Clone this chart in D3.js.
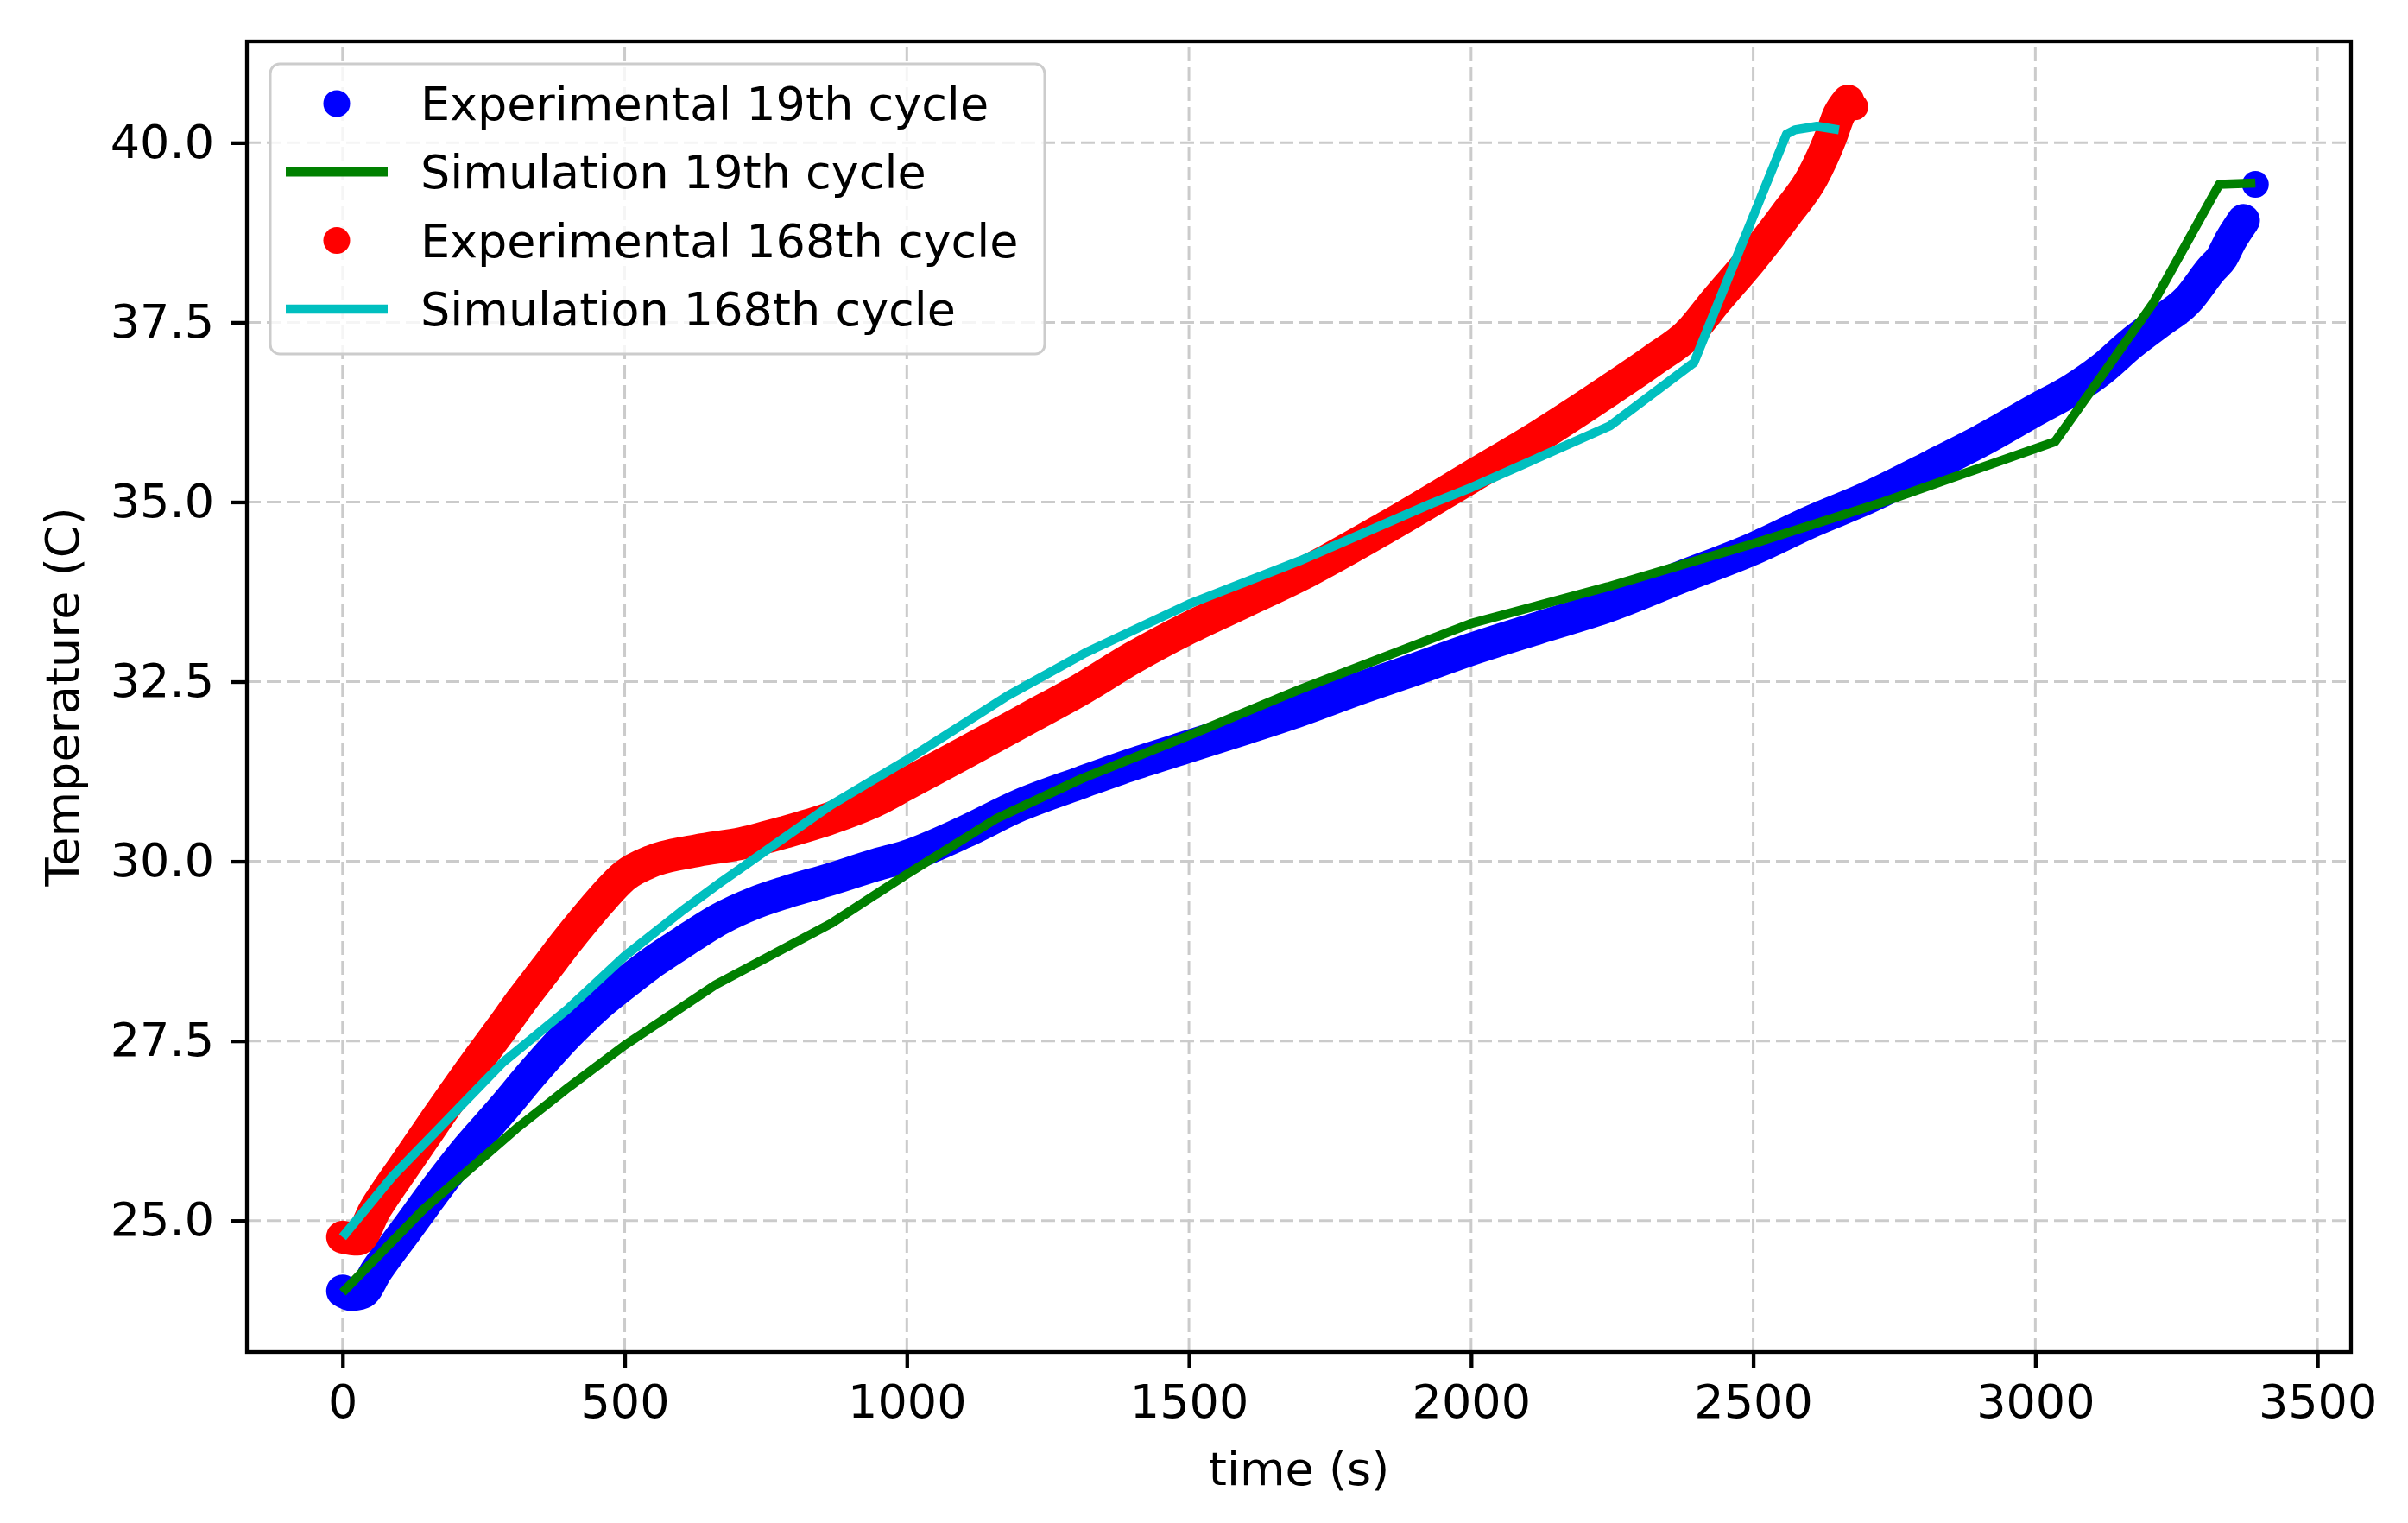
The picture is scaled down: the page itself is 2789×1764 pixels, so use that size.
<!DOCTYPE html>
<html>
<head>
<meta charset="utf-8">
<script src="https://cdn.jsdelivr.net/npm/d3@7"></script>
<style>
    body { margin: 0; background: #fff; }
    text { font-family: "DejaVu Sans", sans-serif; fill: #000; }
</style>
</head>
<body>
<script>
// ---- data: [time (s), temperature (C)] ----
var exp19 = [[0, 24.02], [15, 23.97], [35, 24.0], [60, 24.3], [113, 24.87], [167, 25.45], [222, 26.0],
    [280, 26.52], [340, 27.08], [400, 27.6], [450, 27.98], [500, 28.3], [550, 28.6], [600, 28.86],
    [669, 29.2], [730, 29.42], [786, 29.57], [865, 29.75], [945, 29.95], [1000, 30.07], [1100, 30.4],
    [1200, 30.78], [1310, 31.1], [1400, 31.35], [1500, 31.6], [1600, 31.85], [1696, 32.1], [1800, 32.4],
    [1900, 32.67], [2000, 32.95], [2120, 33.25], [2242, 33.55], [2370, 33.95], [2500, 34.35], [2606, 34.74],
    [2700, 35.05], [2816, 35.5], [2915, 35.9], [3000, 36.28], [3067, 36.57], [3118, 36.85], [3169, 37.2],
    [3219, 37.5], [3270, 37.81], [3311, 38.23], [3331, 38.41], [3346, 38.64], [3369, 38.92], [3390, 39.42]];

var sim19 = [[0, 24.0], [144, 25.16], [245, 25.85], [308, 26.28], [400, 26.85], [500, 27.44], [661, 28.28],
    [865, 29.13], [1000, 29.82], [1160, 30.6], [1310, 31.15], [1500, 31.75], [1696, 32.39], [2000, 33.31],
    [2242, 33.82], [2500, 34.42], [2730, 35.0], [3035, 35.84], [3209, 37.77], [3326, 39.42], [3390, 39.44]];

var exp168 = [[0, 24.77], [27, 24.74], [58, 25.16], [113, 25.8], [167, 26.42], [237, 27.2], [284, 27.7],
    [316, 28.05], [360, 28.5], [394, 28.85], [430, 29.2], [457, 29.45], [500, 29.8], [551, 30.01],
    [629, 30.15], [708, 30.25], [786, 30.41], [865, 30.6], [943, 30.84], [1000, 31.08], [1100, 31.5],
    [1217, 32.0], [1310, 32.4], [1400, 32.83], [1500, 33.25], [1600, 33.62], [1696, 33.98], [1852, 34.66],
    [2000, 35.35], [2125, 35.94], [2242, 36.54], [2324, 36.98], [2387, 37.35], [2434, 37.8], [2496, 38.37],
    [2559, 39.01], [2605, 39.52], [2637, 40.07], [2652, 40.39], [2668, 40.58], [2680, 40.5]];

var sim168 = [[0, 24.77], [89, 25.62], [167, 26.25], [284, 27.2], [400, 27.95], [500, 28.68], [600, 29.3],
    [669, 29.7], [747, 30.13], [865, 30.78], [1000, 31.41], [1178, 32.3], [1316, 32.9], [1500, 33.58],
    [1696, 34.18], [1930, 34.98], [2000, 35.2], [2246, 36.06], [2395, 36.94], [2559, 40.12], [2574, 40.18],
    [2613, 40.23], [2652, 40.18]];

var xTicks = [0, 500, 1000, 1500, 2000, 2500, 3000, 3500];
var yTicks = [25.0, 27.5, 30.0, 32.5, 35.0, 37.5, 40.0];

var legendLabels = ["Experimental 19th cycle", "Simulation 19th cycle", "Experimental 168th cycle", "Simulation 168th cycle"];

// ---- layout ----
var width = 2789, height = 1764;
var L = 286, R = 2723, T = 48, B = 1566;
var fs = 54, lw = 4.3;

var svg = d3.select("body")
    .append("svg")
    .attr("width", width)
    .attr("height", height);

svg.append("rect").attr("width", width).attr("height", height).attr("fill", "#fff");

var x = d3.scaleLinear().domain([-169.5, 3559.5]).range([L, R]);
var y = d3.scaleLinear().domain([23.17, 41.41]).range([B, T]);

svg.append("clipPath").attr("id", "plot")
    .append("rect").attr("x", L).attr("y", T).attr("width", R - L).attr("height", B - T);

// grid
var grid = svg.append("g")
    .attr("stroke", "#cbcbcb")
    .attr("stroke-width", 3)
    .attr("stroke-dasharray", "16,7");
grid.selectAll("line.vx").data(xTicks).enter().append("line")
    .attr("x1", d => x(d)).attr("x2", d => x(d))
    .attr("y1", B).attr("y2", T);
grid.selectAll("line.hy").data(yTicks).enter().append("line")
    .attr("x1", L).attr("x2", R)
    .attr("y1", d => y(d)).attr("y2", d => y(d));

// series
var plot = svg.append("g").attr("clip-path", "url(#plot)");

var line = d3.line()
    .x(d => x(d[0]))
    .y(d => y(d[1]));

var smooth = d3.line()
    .x(d => x(d[0]))
    .y(d => y(d[1]))
    .curve(d3.curveMonotoneX);

var dotR = 15.5;

function scatter(data, color) {
    // the dense experimental dots read as a band through the read points
    plot.append("path")
        .attr("d", smooth(data.slice(0, -1)))
        .attr("fill", "none")
        .attr("stroke", color)
        .attr("stroke-width", 38)
        .attr("stroke-linecap", "round")
        .attr("stroke-linejoin", "round");
    plot.append("g").selectAll("circle")
        .data(data).enter().append("circle")
        .attr("cx", d => x(d[0]))
        .attr("cy", d => y(d[1]))
        .attr("r", dotR)
        .attr("fill", color);
}

function simLine(data, color) {
    plot.append("path")
        .attr("d", line(data))
        .attr("fill", "none")
        .attr("stroke", color)
        .attr("stroke-width", 10.5)
        .attr("stroke-linejoin", "round");
}

scatter(exp19, "#0000ff");
simLine(sim19, "#008000");
scatter(exp168, "#ff0000");
simLine(sim168, "#00bfbf");

// axes
var xAxis = svg.append("g")
    .attr("transform", "translate(0," + B + ")")
    .call(d3.axisBottom(x).tickValues(xTicks).tickSize(19).tickPadding(19).tickFormat(d3.format("d")));
var yAxis = svg.append("g")
    .attr("transform", "translate(" + L + ",0)")
    .call(d3.axisLeft(y).tickValues(yTicks).tickSize(19).tickPadding(19).tickFormat(d3.format(".1f")));

[xAxis, yAxis].forEach(function (g) {
    g.select(".domain").remove();
    g.selectAll(".tick line").attr("stroke", "#000").attr("stroke-width", lw);
    g.selectAll(".tick text")
        .attr("font-family", "DejaVu Sans")
        .attr("font-size", fs)
        .attr("fill", "#000");
});

// frame
svg.append("rect")
    .attr("x", L).attr("y", T)
    .attr("width", R - L).attr("height", B - T)
    .attr("fill", "none")
    .attr("stroke", "#000")
    .attr("stroke-width", lw);

// axis labels
svg.append("text")
    .attr("x", (L + R) / 2)
    .attr("y", 1720)
    .attr("text-anchor", "middle")
    .attr("font-size", fs)
    .text("time (s)");

svg.append("text")
    .attr("transform", "translate(91," + (T + B) / 2 + ") rotate(-90)")
    .attr("text-anchor", "middle")
    .attr("font-size", fs)
    .text("Temperature (C)");

// legend
var legend = svg.append("g");
legend.append("rect")
    .attr("x", 313).attr("y", 74)
    .attr("width", 897).attr("height", 336)
    .attr("rx", 11).attr("ry", 11)
    .attr("fill", "#fff").attr("fill-opacity", 0.8)
    .attr("stroke", "#cccccc").attr("stroke-width", 3);

var legendKinds = ["dot", "line", "dot", "line"];
var legendColors = ["#0000ff", "#008000", "#ff0000", "#00bfbf"];

var rows = legend.selectAll("g.row")
    .data(legendLabels).enter().append("g")
    .attr("class", "row")
    .attr("transform", (d, i) => "translate(0," + (120 + i * 79.3) + ")");

rows.each(function (d, i) {
    var g = d3.select(this);
    if (legendKinds[i] === "dot") {
        g.append("circle").attr("cx", 390).attr("cy", 0).attr("r", dotR).attr("fill", legendColors[i]);
    } else {
        g.append("line").attr("x1", 331).attr("x2", 449).attr("y1", 0).attr("y2", 0)
            .attr("stroke", legendColors[i]).attr("stroke-width", 10.5);
    }
    g.append("text")
        .attr("x", 487)
        .attr("y", 19)
        .attr("font-size", fs)
        .text(d);
});
</script>
</body>
</html>
